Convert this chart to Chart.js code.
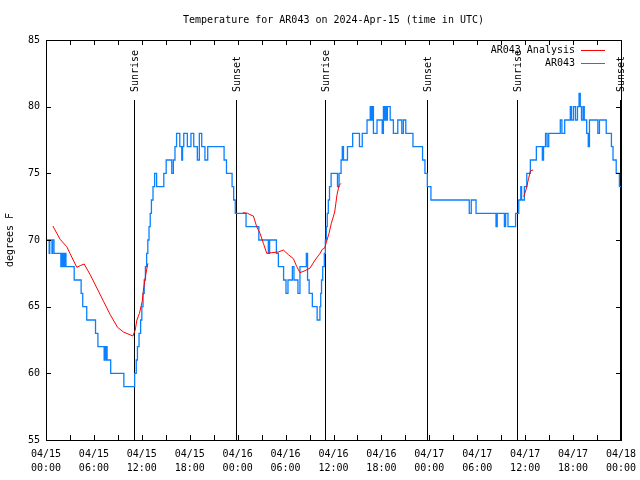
<!DOCTYPE html>
<html>
<head>
<meta charset="utf-8">
<script src="https://cdn.jsdelivr.net/npm/chart.js@4.4.1/dist/chart.umd.min.js"></script>
<style>
  html, body { margin: 0; padding: 0; background: #fff; }
  #wrap { width: 640px; height: 480px; }
</style>
</head>
<body>
<div id="wrap"><canvas id="tempChart" width="640" height="480"></canvas></div>
<script>
const chartTitle = 'Temperature for AR043 on 2024-Apr-15 (time in UTC)';
const yTitle = 'degrees F';
const analysisName = 'AR043 Analysis';
const obsName = 'AR043';

// x values are hours since 04/15 00:00 UTC
const xTickDates = ['04/15', '04/15', '04/15', '04/15', '04/16', '04/16', '04/16', '04/16', '04/17', '04/17', '04/17', '04/17', '04/18'];
const xTickTimes = ['00:00', '06:00', '12:00', '18:00', '00:00', '06:00', '12:00', '18:00', '00:00', '06:00', '12:00', '18:00', '00:00'];

const sunHours = [11.0, 23.77, 34.9, 47.68, 58.96, 71.87];
const sunLabels = ['Sunrise', 'Sunset', 'Sunrise', 'Sunset', 'Sunrise', 'Sunset'];

// station obs (value holds until next time)
const obsHours = [
  0.0, 0.4, 0.47, 0.75, 0.82, 1.0, 1.86, 1.93, 2.08, 2.15, 2.3, 2.37, 2.5, 3.53, 4.4, 4.6, 5.1, 6.2, 6.5,
  7.28, 7.33, 7.45, 7.5, 7.65, 8.1, 9.75,
  11.1, 11.3, 11.45, 11.65, 11.85, 12.0, 12.15, 12.3, 12.45, 12.6, 12.75, 12.9, 13.05, 13.2, 13.4, 13.6,
  13.85, 14.75, 15.05, 15.75, 15.95, 16.15, 16.35, 16.75, 17.0, 17.1, 17.25, 17.7, 18.15, 18.5, 18.95,
  19.2, 19.5, 19.9, 20.25, 22.3, 22.6, 23.3, 23.5, 23.7,
  25.05, 26.65, 27.84, 28.0, 28.85, 29.1, 29.75, 30.05, 30.3, 30.85, 31.05, 31.55, 31.8, 32.6, 32.75,
  32.95, 33.35, 33.7, 33.95, 34.3, 34.4, 34.5, 34.65, 34.85,
  34.98, 35.1, 35.22, 35.35, 35.5, 35.7, 36.5, 36.7, 36.95, 37.1, 37.25, 37.75, 38.4, 39.25, 39.6, 40.2,
  40.6, 40.75, 40.85, 41.0, 41.45, 42.1, 42.25, 42.4, 42.5, 42.6, 42.75, 43.1, 43.5, 44.05, 44.55, 44.75,
  45.05, 45.95, 47.15, 47.45, 47.75, 48.2,
  53.0, 53.25, 53.85, 56.35, 56.5, 57.4, 57.55, 57.85, 58.8,
  59.2, 59.45, 59.55, 59.9, 60.2, 60.65, 61.4, 62.15, 62.3, 62.55, 62.75, 62.95, 64.4, 64.6, 64.95, 65.65,
  65.8, 66.05, 66.3, 66.55, 66.75, 66.9, 67.05, 67.25, 67.4, 67.7, 67.9, 68.05, 69.1, 69.3, 70.15, 70.8,
  71.0, 71.4, 71.8, 72.0
];
const obsTemps = [
  70, 69, 70, 69, 70, 69, 68, 69, 68, 69, 68, 69, 68, 67, 66, 65, 64, 63, 62,
  61, 62, 61, 62, 61, 60, 59,
  60, 61, 62, 63, 64, 65, 66, 67, 68, 69, 70, 71, 72, 73, 74, 75,
  74, 75, 76, 75, 76, 77, 78, 77, 76, 77, 78, 77, 78, 77, 76,
  78, 77, 76, 77, 76, 75, 74, 73, 72,
  71, 70, 69, 70, 69, 68, 67, 66, 67, 68, 67, 66, 68, 69, 67,
  66, 65, 65, 64, 65, 66, 67, 68, 69,
  70, 71, 72, 73, 74, 75, 74, 75, 76, 77, 76, 77, 78, 77, 78, 79,
  80, 79, 80, 78, 79, 78, 80, 79, 80, 79, 80, 79, 78, 79, 78, 79,
  78, 77, 76, 75, 74, 73,
  72, 73, 72, 71, 72, 71, 72, 71, 72,
  73, 74, 73, 74, 75, 76, 77, 76, 77, 78, 77, 78, 79, 78, 79, 80,
  79, 80, 79, 80, 81, 80, 79, 80, 79, 78, 77, 79, 78, 79, 78, 77,
  76, 75, 74, 74
];

// analysis (null = gap)
const anaHours = [
  0.86, 1.77, 2.6, 3.0, 3.86, 4.36, 4.78, 5.53, 6.37, 7.2, 8.04, 8.96, 9.7, 10.88, 11.17, 11.38, 11.7,
  12.05, 12.2, 12.38, 12.55, 12.76,
  18.0,
  24.66, 25.25, 25.55, 25.97, 26.38, 26.8, 27.22, 27.64, 28.26, 29.1, 29.72, 30.35, 30.98, 31.4, 31.81,
  32.44, 33.07, 33.69, 34.32, 34.6, 34.9, 35.19, 35.44, 35.73, 36.15, 36.44, 36.7, 36.94,
  48.0,
  59.83, 60.17, 60.42, 60.67, 61.0
];
const anaTemps = [
  71.05, 70.05, 69.5, 69.0, 67.95, 68.1, 68.2, 67.4, 66.4, 65.4, 64.4, 63.45, 63.1, 62.8, 63.25, 64.0, 64.5,
  65.4, 66.25, 67.0, 67.6, 68.25,
  null,
  72.05, 72.0, 71.9, 71.8, 71.0, 70.5, 69.75, 69.0, 69.05, 69.1, 69.25, 68.9, 68.6, 68.0, 67.55,
  67.7, 67.9, 68.5, 69.0, 69.3, 69.4, 70.0, 70.5, 71.25, 72.1, 73.4, 74.1, 74.25,
  null,
  73.25, 73.9, 74.6, 75.2, 75.25
];

const font = '10px "DejaVu Sans Mono"';

const gnuplotBits = {
  id: 'gnuplotBits',
  beforeDatasetsDraw(chart) {
    const { ctx, chartArea: a, scales: { x } } = chart;
    ctx.save();
    ctx.strokeStyle = '#000';
    ctx.lineWidth = 1;
    ctx.fillStyle = '#000';
    ctx.font = font;
    sunHours.forEach((h, i) => {
      const px = Math.round(x.getPixelForValue(h)) + 0.5;
      ctx.beginPath();
      ctx.moveTo(px, 100);
      ctx.lineTo(px, a.bottom);
      ctx.stroke();
      ctx.save();
      ctx.translate(px + 1, 92);
      ctx.rotate(-Math.PI / 2);
      ctx.textAlign = 'left';
      ctx.textBaseline = 'middle';
      ctx.fillText(sunLabels[i], 0, 0);
      ctx.restore();
    });
    ctx.restore();
  },
  afterDraw(chart) {
    const { ctx, chartArea: a, scales: { x, y } } = chart;
    ctx.save();
    ctx.strokeStyle = '#000';
    ctx.lineWidth = 1;
    ctx.beginPath();
    x.ticks.forEach(t => {
      const px = Math.round(x.getPixelForValue(t.value)) + 0.5;
      ctx.moveTo(px, a.bottom); ctx.lineTo(px, a.bottom - 5);
      ctx.moveTo(px, a.top); ctx.lineTo(px, a.top + 5);
    });
    y.ticks.forEach(t => {
      const py = Math.round(y.getPixelForValue(t.value)) + 0.5;
      ctx.moveTo(a.left, py); ctx.lineTo(a.left + 5, py);
      ctx.moveTo(a.right, py); ctx.lineTo(a.right - 5, py);
    });
    ctx.stroke();
    ctx.strokeRect(Math.round(a.left) + 0.5, Math.round(a.top) + 0.5,
      Math.round(a.right - a.left), Math.round(a.bottom - a.top));

    // title
    ctx.fillStyle = '#000';
    ctx.font = font;
    ctx.textAlign = 'center';
    ctx.textBaseline = 'middle';
    ctx.fillText(chartTitle, (a.left + a.right) / 2, 20);

    // key
    ctx.textAlign = 'right';
    const keys = [[analysisName, 'red', 50], [obsName, '#0a80ff', 63]];
    keys.forEach(([name, col, ky]) => {
      ctx.fillStyle = '#000';
      ctx.fillText(name, 575, ky);
      ctx.strokeStyle = col;
      ctx.beginPath();
      ctx.moveTo(581, ky + 0.5);
      ctx.lineTo(605, ky + 0.5);
      ctx.stroke();
    });
    ctx.restore();
  }
};

new Chart(document.getElementById('tempChart'), {
  type: 'line',
  data: {
    datasets: [{
      label: analysisName,
      data: anaHours.map((h, i) => ({ x: h, y: anaTemps[i] })),
      borderColor: 'red',
      borderWidth: 1,
      pointRadius: 0,
      spanGaps: false,
      tension: 0
    }, {
      label: obsName,
      data: obsHours.map((h, i) => ({ x: h, y: obsTemps[i] })),
      borderColor: '#0a80ff',
      borderWidth: 1.3,
      pointRadius: 0,
      stepped: true
    }]
  },
  options: {
    responsive: false,
    animation: false,
    devicePixelRatio: 1,
    layout: { padding: { top: 40, right: 19, left: 0, bottom: 0 } },
    plugins: {
      legend: { display: false },
      title: { display: false },
      tooltip: { enabled: false }
    },
    scales: {
      x: {
        type: 'linear',
        min: 0,
        max: 72,
        afterFit(scale) {
          scale.height = 40;
          scale.paddingLeft = 0;
          scale.paddingRight = 0;
        },
        grid: { display: false, drawTicks: false },
        border: { display: false },
        ticks: {
          stepSize: 3,
          autoSkip: false,
          maxRotation: 0,
          padding: 7,
          color: '#000',
          font: { family: 'DejaVu Sans Mono', size: 10, lineHeight: 1.4 },
          callback: (v) => v % 6 === 0 ? [xTickDates[v / 6], xTickTimes[v / 6]] : ''
        }
      },
      y: {
        min: 55,
        max: 85,
        afterFit(scale) { scale.width = 46; },
        grid: { display: false, drawTicks: false },
        border: { display: false },
        title: {
          display: true,
          text: yTitle,
          color: '#000',
          font: { family: 'DejaVu Sans Mono', size: 10 },
          padding: { top: 4, bottom: 0 }
        },
        ticks: {
          stepSize: 5,
          padding: 6,
          color: '#000',
          font: { family: 'DejaVu Sans Mono', size: 10 }
        }
      }
    }
  },
  plugins: [gnuplotBits]
});
</script>
</body>
</html>
